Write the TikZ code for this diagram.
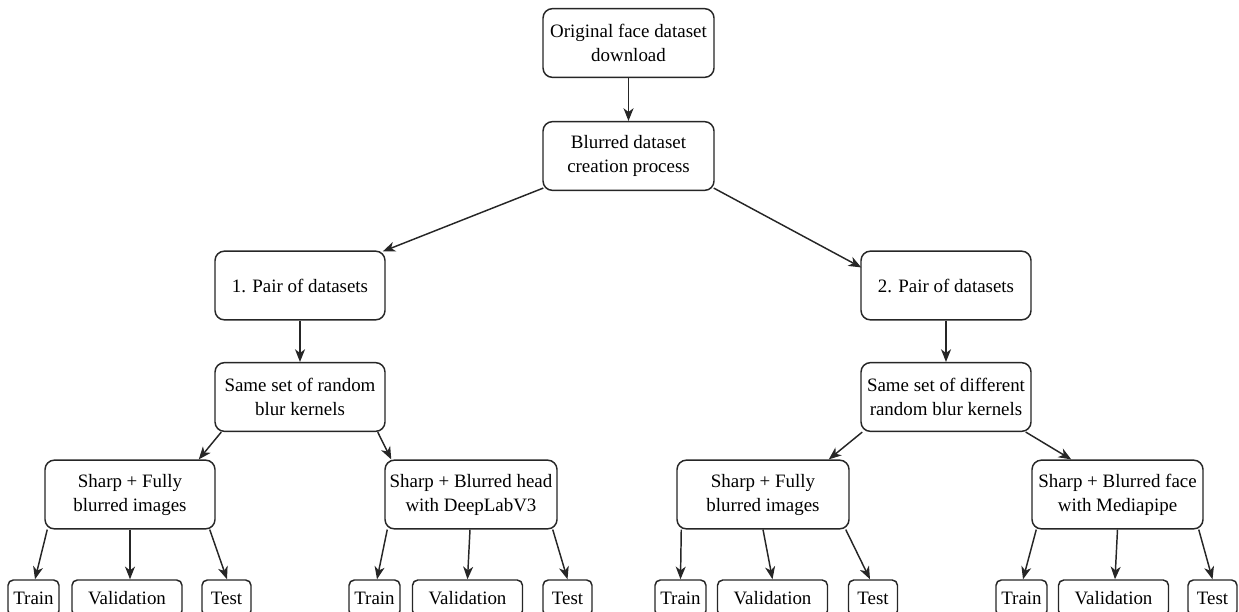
\documentclass[tikz,border=0pt]{standalone}
\usepackage{fontspec}
\setmainfont{Liberation Serif}
\usetikzlibrary{arrows.meta,calc}
\begin{document}
\begin{tikzpicture}[x=0.75pt,y=-0.75pt,
  box/.style={draw=black!85, line width=1.1pt, rounded corners=7pt, fill=white,
    align=center, font=\fontsize{14.2}{18}\selectfont, inner sep=0pt,
    minimum height=51.5pt},
  leaf/.style={draw=black!85, line width=1.1pt, rounded corners=4pt, fill=white,
    font=\fontsize{14.2}{18}\selectfont, inner sep=0pt, minimum height=27pt},
  arr/.style={draw=black!85, line width=1.1pt, -{Stealth[length=9.5pt,width=7.5pt,inset=2.8pt]}}]
\useasboundingbox (0,0) rectangle (1239,611);
\clip (0,0) rectangle (1239,611);
% main boxes
\node[box, minimum width=128.25pt] (b1) at (628.5,43) {Original face dataset\\download};
\node[box, minimum width=128.25pt] (b2) at (628.5,156) {Blurred dataset\\creation process};
\node[box, minimum width=127.5pt] (b3) at (300,285.5) {1. Pair of datasets};
\node[box, minimum width=127.5pt] (b4) at (946,285.5) {2. Pair of datasets};
\node[box, minimum width=127.5pt] (b5) at (300,397) {Same set of random\\blur kernels};
\node[box, minimum width=127.5pt] (b6) at (946,397) {Same set of different\\random blur kernels};
\node[box, minimum width=127.5pt] (b7) at (130,494.5) {Sharp + Fully\\blurred images};
\node[box, minimum width=129pt] (b8) at (471,494.5) {Sharp + Blurred head\\with DeepLabV3};
\node[box, minimum width=129pt] (b9) at (763,494.5) {Sharp + Fully\\blurred images};
\node[box, minimum width=128.25pt] (b10) at (1117.5,494.5) {Sharp + Blurred face\\with Mediapipe};
% leaves
\node[leaf, minimum width=38.25pt] (l1t) at (33.5,598) {Train};
\node[leaf, minimum width=82.5pt] (l1v) at (127,598) {Validation};
\node[leaf, minimum width=36.75pt] (l1x) at (226.5,598) {Test};
\node[leaf, minimum width=38.25pt] (l2t) at (374.5,598) {Train};
\node[leaf, minimum width=82.5pt] (l2v) at (467.5,598) {Validation};
\node[leaf, minimum width=36.75pt] (l2x) at (567.5,598) {Test};
\node[leaf, minimum width=38.25pt] (l3t) at (680.5,598) {Train};
\node[leaf, minimum width=82.5pt] (l3v) at (772.5,598) {Validation};
\node[leaf, minimum width=36.75pt] (l3x) at (873,598) {Test};
\node[leaf, minimum width=38.25pt] (l4t) at (1021.5,598) {Train};
\node[leaf, minimum width=82.5pt] (l4v) at (1113.5,598) {Validation};
\node[leaf, minimum width=36.75pt] (l4x) at (1212.5,598) {Test};
% connectors
\draw[arr] (b1.south) -- (b2.north);
\draw[arr] ($(b2.south west)+(1,-3)$) -- ($(b3.north east)+(-3,1)$);
\draw[arr] ($(b2.south east)+(-1,-3)$) -- ($(b4.north west)+(1,17)$);
\draw[arr] (b3.south) -- (b5.north);
\draw[arr] (b4.south) -- (b6.north);
\draw[arr] ($(b5.south west)+(7,0)$) -- ($(b7.north east)+(-17,0)$);
\draw[arr] ($(b5.south east)+(-8,0)$) -- ($(b8.north west)+(7,0)$);
\draw[arr] ($(b6.south west)+(2,0)$) -- ($(b9.north east)+(-21,0)$);
\draw[arr] ($(b6.south east)+(-6,0)$) -- ($(b10.north west)+(40,0)$);
% leaf connectors
\draw[arr] ($(b7.south west)+(3,0)$) -- ($(l1t.north)+(1.5,0)$);
\draw[arr] (b7.south) -- ($(l1v.north)+(3,0)$);
\draw[arr] ($(b7.south east)+(-6,0)$) -- ($(l1x.north)+(0.5,0)$);
\draw[arr] ($(b8.south west)+(3,0)$) -- ($(l2t.north)+(2.5,0)$);
\draw[arr] ($(b8.south)+(-1,0)$) -- (l2v.north);
\draw[arr] ($(b8.south east)+(-5,0)$) -- (l2x.north);
\draw[arr] ($(b9.south west)+(5,0)$) -- (l3t.north);
\draw[arr] (b9.south) -- (l3v.north);
\draw[arr] ($(b9.south east)+(-4,0)$) -- ($(l3x.north)+(-3,0)$);
\draw[arr] ($(b10.south west)+(5,0)$) -- ($(l4t.north)+(1.5,0)$);
\draw[arr] (b10.south) -- ($(l4v.north)+(1.5,0)$);
\draw[arr] ($(b10.south east)+(-5,0)$) -- (l4x.north);
\end{tikzpicture}
\end{document}
